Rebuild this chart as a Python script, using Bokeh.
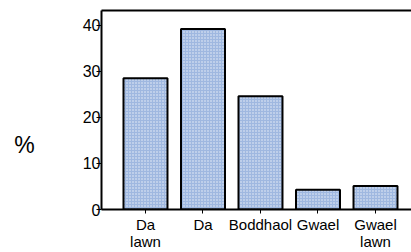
from bokeh.plotting import figure
from bokeh.layouts import row
from bokeh.models import Range1d, FixedTicker, LinearAxis
from bokeh.core.properties import value
from bokeh.embed import file_html
from bokeh.resources import INLINE

categories = ["Da lawn", "Da", "Boddhaol", "Gwael", "Gwael lawn"]
values = [28.5, 39.2, 24.6, 4.3, 5.1]
y_ticks = [0, 10, 20, 30, 40]
y_title = "%"

xs = list(range(len(categories)))
FONT = "Liberation Sans"
LEFT_W = 50

# side strip holding the "%" unit title
side = figure(width=LEFT_W, height=252, output_backend="svg", toolbar_location=None,
              title=None, x_range=Range1d(0, LEFT_W), y_range=Range1d(252, 0),
              x_axis_location=None, y_axis_location=None,
              min_border=0, min_border_left=0, min_border_right=0,
              min_border_top=0, min_border_bottom=0, outline_line_color=None)
side.grid.visible = False
side.text(x=[24], y=[170], text=[y_title], text_font=value(FONT), text_font_size="23px",
          text_align="center", text_baseline="middle", text_color="black")

p = figure(width=411 - LEFT_W, height=252, output_backend="svg", toolbar_location=None,
           x_range=Range1d(-0.765, 4.626), y_range=Range1d(0, 43.2),
           min_border_left=101 - LEFT_W, min_border_right=0, min_border_top=10, min_border_bottom=42)
p.outline_line_color = None
p.grid.grid_line_color = None

p.vbar(x=xs, top=values, width=0.765, fill_color="#9fb8e0", line_color="black", line_width=2,
       hatch_pattern="dot", hatch_color="white", hatch_alpha=0.8, hatch_scale=3)

xa = p.xaxis[0]
xa.ticker = FixedTicker(ticks=xs)
xa.major_label_overrides = {i: c.replace(" ", "\n") for i, c in enumerate(categories)}
xa.minor_tick_line_color = None
xa.major_tick_out = 4
xa.major_tick_in = 0
xa.axis_line_width = 2
xa.major_tick_line_width = 1
xa.major_label_text_font = FONT
xa.major_label_text_font_size = "15px"
xa.major_label_text_line_height = 1.0
xa.major_label_text_color = "black"
xa.major_label_standoff = 2

ya = p.yaxis[0]
ya.ticker = FixedTicker(ticks=y_ticks)
ya.minor_tick_line_color = None
ya.major_tick_out = 5
ya.major_tick_in = 0
ya.axis_line_width = 2
ya.major_label_text_font = FONT
ya.major_label_text_font_size = "16px"
ya.major_label_text_color = "black"
ya.major_label_standoff = -4

top = LinearAxis(major_tick_line_color=None, minor_tick_line_color=None,
                 major_label_text_font_size="0px", axis_line_width=2,
                 ticker=FixedTicker(ticks=[]))
p.add_layout(top, "above")

layout = row(side, p, spacing=0)
open("out.html", "w").write(file_html(layout, INLINE))
